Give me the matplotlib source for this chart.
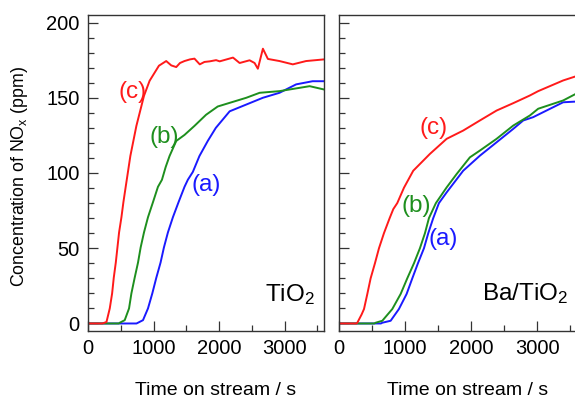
import matplotlib
matplotlib.use("Agg")
import matplotlib.pyplot as plt
from matplotlib.ticker import MultipleLocator

plt.rcParams["font.family"] = ["Liberation Sans", "DejaVu Sans"]
plt.rcParams["mathtext.fontset"] = "custom"
plt.rcParams["mathtext.rm"] = "Liberation Sans"
plt.rcParams["mathtext.it"] = "Liberation Sans:italic"

RED = "#ff1a1a"
GREEN = "#1e8f1e"
BLUE = "#1a1aff"

# TiO2 panel
tio2_a_t = [0, 740, 763, 839, 915, 981, 1042, 1107, 1158, 1219, 1295, 1381, 1472, 1523,
            1599, 1700, 1827, 1950, 2161, 2415, 2668, 2921, 3175, 3427, 3600]
tio2_a = [0, 0, 0.5, 2.2, 10, 20, 30.4, 40.5, 50.5, 60.5, 70.6, 80.6, 90.8, 95.5,
          100.7, 111.3, 121.3, 130, 141, 145.5, 150, 153.3, 158.9, 161, 161]
tio2_b_t = [0, 470, 485, 560, 626, 662, 712, 763, 803, 854, 915, 991, 1067, 1128,
            1185, 1244, 1346, 1472, 1624, 1801, 1979, 2415, 2618, 2921, 3381, 3600]
tio2_b = [0, 0, 0.5, 2.2, 10, 20, 30.4, 40.5, 50.5, 60.5, 70.6, 80.6, 90.8, 95.5,
          104, 111.3, 121.3, 125.3, 131.3, 138.7, 144.2, 150, 153.3, 154.4, 157.7, 155.5]
tio2_c_t = [0, 220, 282, 332, 368, 393, 424, 449, 474, 510, 540, 575, 646, 738, 854,
            940, 1082, 1193, 1270, 1346, 1403, 1472, 1555, 1624, 1705, 1776, 1857,
            1954, 2009, 2212, 2313, 2465, 2541, 2591, 2668, 2744, 2921, 3124, 3327, 3600]
tio2_c = [0, 0, 1, 10, 20, 30.4, 40.5, 50.5, 60.5, 70.6, 80.6, 90.8, 111.3, 131.3, 151.3,
          161.3, 171.3, 174.4, 171.5, 170.4, 173.1, 174.4, 175.5, 176, 172.2, 173.8, 174.2,
          175, 174.2, 176.7, 173.1, 174.9, 173.1, 169.3, 182.6, 175.8, 174.4, 172.2, 174.4, 175.5]

# Ba/TiO2 panel
ba_a_t = [0, 640, 661, 787, 912, 1028, 1114, 1199, 1290, 1355, 1430, 1516, 1632, 1882,
          2134, 2386, 2637, 2788, 2938, 3391, 3600]
ba_a = [0, 0, 0.5, 1.8, 9.6, 19.6, 30, 40, 50, 60, 70, 80, 87.1, 101.5,
        111.5, 120.4, 129.3, 134.9, 137.1, 147, 147.5]
ba_b_t = [0, 540, 561, 661, 812, 938, 1038, 1139, 1229, 1305, 1365, 1470, 1632, 1783,
          1983, 2134, 2386, 2637, 2888, 3014, 3391, 3600]
ba_b = [0, 0, 0.5, 1.8, 9.6, 19.6, 30, 40, 50, 60, 70, 80, 90.4, 99.3,
        110.4, 114.9, 122.7, 131.5, 138.2, 142.7, 148.2, 153]
ba_c_t = [0, 270, 284, 349, 385, 435, 485, 550, 611, 686, 772, 827, 887, 988, 1128,
          1380, 1632, 1882, 2134, 2386, 2637, 2888, 3014, 3391, 3600]
ba_c = [0, 0, 0.5, 6, 9.6, 19.6, 30, 40, 50, 60, 70, 76, 80, 90.2, 101.5,
        112.7, 122.7, 128.2, 134.9, 141.5, 146.4, 151.5, 154.4, 161.5, 164.5]

fig = plt.figure(figsize=(5.75, 3.99), dpi=100)
ax1 = fig.add_axes([88 / 575, 1 - 331 / 399, 236 / 575, 316 / 399])
ax2 = fig.add_axes([338.5 / 575, 1 - 331 / 399, 238.5 / 575, 316 / 399])

lw = 1.4
ax1.plot(tio2_a_t, tio2_a, color=BLUE, lw=lw)
ax1.plot(tio2_b_t, tio2_b, color=GREEN, lw=lw)
ax1.plot(tio2_c_t, tio2_c, color=RED, lw=lw)
ax2.plot(ba_a_t, ba_a, color=BLUE, lw=lw)
ax2.plot(ba_b_t, ba_b, color=GREEN, lw=lw)
ax2.plot(ba_c_t, ba_c, color=RED, lw=lw)

lab = 17.5
ax1.text(687, 154, "(c)", color=RED, fontsize=lab, ha="center", va="center")
ax1.text(1163, 124, "(b)", color=GREEN, fontsize=lab, ha="center", va="center")
ax1.text(1807, 92, "(a)", color=BLUE, fontsize=lab, ha="center", va="center")
ax1.text(0.962, 0.114, "TiO$_2$", transform=ax1.transAxes, fontsize=lab,
         ha="right", va="center")
ax2.text(1430, 130, "(c)", color=RED, fontsize=lab, ha="center", va="center")
ax2.text(1179, 78, "(b)", color=GREEN, fontsize=lab, ha="center", va="center")
ax2.text(1581, 56, "(a)", color=BLUE, fontsize=lab, ha="center", va="center")
ax2.text(0.962, 0.117, "Ba/TiO$_2$", transform=ax2.transAxes, fontsize=lab,
         ha="right", va="center")

for ax in (ax1, ax2):
    ax.set_xlim(0, 3600)
    ax.set_ylim(-5, 205)
    ax.xaxis.set_major_locator(MultipleLocator(1000))
    ax.xaxis.set_minor_locator(MultipleLocator(500))
    ax.yaxis.set_major_locator(MultipleLocator(50))
    ax.yaxis.set_minor_locator(MultipleLocator(10))
    ax.tick_params(which="both", direction="in", top=False, right=False,
                   color="#333333", width=0.9, labelsize=14.5, pad=6)
    ax.tick_params(which="major", length=7)
    ax.tick_params(which="minor", length=4)
    for s in ax.spines.values():
        s.set_color("#333333")
        s.set_linewidth(1.0)
    ax.set_xlabel("Time on stream / s", fontsize=14)
    ax.xaxis.set_label_coords(0.54, -0.16)
    ax.xaxis.label.set_va("top")

ax2.tick_params(axis="y", labelleft=False)
ax1.set_ylabel("Concentration of NO$_\\mathrm{x}$ (ppm)", fontsize=12.8)
ax1.yaxis.set_label_coords(-0.245, 0.49)

fig.savefig("out.png", dpi=100, facecolor="white")
